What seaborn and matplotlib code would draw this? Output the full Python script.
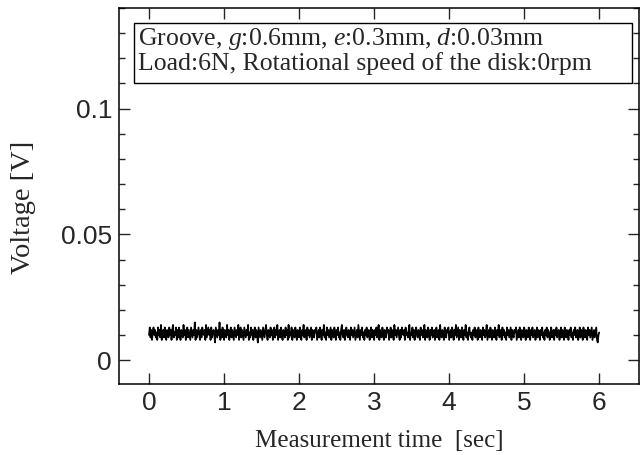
import numpy as np
import pandas as pd
import matplotlib
matplotlib.use("Agg")
import matplotlib.pyplot as plt
import seaborn as sns
from matplotlib.ticker import MultipleLocator
from matplotlib.patches import Rectangle

voltage_mv = [
    10,13,9,12,8,11,13,10,12,9,
    11,8,13,10,12,9,14,8,11,12,
    9,13,10,8,12,11,9,13,10,12,
    8,12,14,9,11,10,13,8,12,9,
    13,10,8,12,11,9,14,10,12,8,
    11,13,9,12,10,8,13,11,9,12,
    10,15,8,12,9,11,13,10,8,12,
    9,13,11,10,12,8,14,9,11,13,
    10,12,8,13,9,11,12,10,7,13,
    11,9,12,10,15,8,12,9,13,10,
    8,12,11,9,14,10,12,8,11,13,
    9,12,10,8,13,11,9,12,10,14,
    8,11,13,9,12,10,8,13,11,9,
    12,10,14,8,11,9,13,10,12,8,
    11,13,9,12,10,7,13,11,9,12,
    10,8,13,11,9,12,14,10,8,12,
    11,9,13,10,12,8,11,13,9,12,
    10,14,8,11,12,9,13,10,8,12,
    11,9,13,10,12,8,14,9,11,10,
    13,8,12,10,9,13,11,8,12,10,
    9,13,11,8,12,10,14,9,11,12,
    8,13,10,12,9,11,13,8,12,10,
    9,12,11,13,8,10,12,9,13,11,
    8,12,10,14,9,11,8,13,10,12,
    9,11,13,8,12,10,9,13,11,8,
    12,10,13,9,11,8,12,14,10,9,
    12,8,11,13,10,9,12,11,8,13,
    10,12,9,11,13,8,10,12,9,14,
    11,8,12,10,13,9,11,8,12,10,
    13,9,11,12,8,10,13,9,12,11,
    8,12,10,13,9,11,14,8,12,10,
    9,13,11,8,12,10,9,13,11,12,
    8,10,13,9,12,11,8,14,10,12,
    9,11,13,10,8,12,9,13,11,10,
    12,8,13,10,11,9,12,14,8,11,
    10,13,9,12,8,11,13,10,9,12,
    11,8,13,10,12,9,11,14,8,12,
    10,9,13,11,8,12,10,13,9,11,
    12,8,10,13,9,11,12,8,14,10,
    9,12,11,8,13,10,9,12,11,13,
    8,10,12,9,13,11,8,12,10,14,
    9,11,13,8,12,10,9,13,11,8,
    12,10,14,9,11,8,12,13,10,9,
    11,8,12,10,13,9,11,12,8,13,
    10,9,12,11,8,13,10,12,9,11,
    14,8,10,12,9,13,11,8,12,10,
    9,13,11,8,12,10,14,9,11,12,
    8,13,10,12,9,11,8,13,10,12,
    9,11,13,8,12,10,9,12,11,13,
    8,10,12,9,13,11,8,12,10,9,
    13,11,8,12,10,9,13,11,8,12,
    10,13,9,11,12,8,10,13,9,12,
    11,8,12,10,13,9,11,8,12,10,
    13,9,12,11,8,10,13,9,11,12,
    8,12,10,13,9,11,12,8,10,13,
    9,12,11,8,13,10,9,12,11,8,
    12,10,13,9,11,8,12,10,13,9,
    11,12,8,10,13,9,12,11,8,13,
    10,9,12,11,8,13,10,12,9,11,
    13,8,10,12,9,11,13,8,7,10,
    11,
]
t_start, t_step = 0.0, 0.01
time_s = [round(t_start + i * t_step, 4) for i in range(len(voltage_mv))]
voltage_v = [v / 1000.0 for v in voltage_mv]

x_ticks = [0, 1, 2, 3, 4, 5, 6]
y_ticks = [0, 0.05, 0.1]
y_tick_labels = ["0", "0.05", "0.1"]
annotation = ("Groove, $g$:0.6mm, $e$:0.3mm, $d$:0.03mm\n"
              "Load:6N, Rotational speed of the disk:0rpm")

sns.set_theme(style="ticks")
plt.rcParams["font.family"] = ["Liberation Serif", "DejaVu Serif"]
plt.rcParams["mathtext.fontset"] = "custom"
plt.rcParams["mathtext.rm"] = "Liberation Serif"
plt.rcParams["mathtext.it"] = "Liberation Serif:italic"

df = pd.DataFrame({"time": time_s, "voltage": voltage_v})

W, H = 641, 455
L, R, T, B = 119, 639, 8, 384
fig = plt.figure(figsize=(W/100, H/100), dpi=100)
ax = fig.add_axes([L/W, 1-B/H, (R-L)/W, (B-T)/H])
sns.lineplot(data=df, x="time", y="voltage", color="black", linewidth=1.25, ax=ax)

ax.set_xlim(-0.4, 6.53)
ax.set_ylim(-0.0095, 0.14)
ax.set_xticks(x_ticks)
ax.set_xticklabels([str(x) for x in x_ticks], family="Liberation Sans", fontsize=19)
ax.set_yticks(y_ticks)
ax.set_yticklabels(y_tick_labels, family="Liberation Sans", fontsize=19)
ax.yaxis.set_minor_locator(MultipleLocator(0.01))
ax.tick_params(which="major", direction="in", length=8, width=1, top=True, right=True, pad=5)
ax.tick_params(which="minor", direction="in", length=4.5, width=1, left=True, right=True)
ax.tick_params(axis="x", which="minor", bottom=False, top=False)
for s in ax.spines.values():
    s.set_linewidth(1.1)
    s.set_color("black")

ax.set_xlabel("Measurement time  [sec]", fontsize=18, labelpad=11)
ax.set_ylabel("Voltage [V]", fontsize=20.5)
ax.yaxis.set_label_coords((36 - L) / (R - L), (B - 207) / (B - T))

def ax_x(px):
    return (px - L) / (R - L)

def ax_y(py):
    return (B - py) / (B - T)

box_l, box_r, box_t, box_b = 134, 632, 23, 83
ax.add_patch(Rectangle((ax_x(box_l), ax_y(box_b)), ax_x(box_r) - ax_x(box_l),
                       ax_y(box_t) - ax_y(box_b), transform=ax.transAxes,
                       facecolor="white", edgecolor="black", linewidth=1.0, zorder=3))
ax.text(ax_x(138), ax_y(26), annotation, transform=ax.transAxes, fontsize=18.5,
        va="top", ha="left", linespacing=1.02, zorder=4)

fig.savefig("out.png", dpi=100)
